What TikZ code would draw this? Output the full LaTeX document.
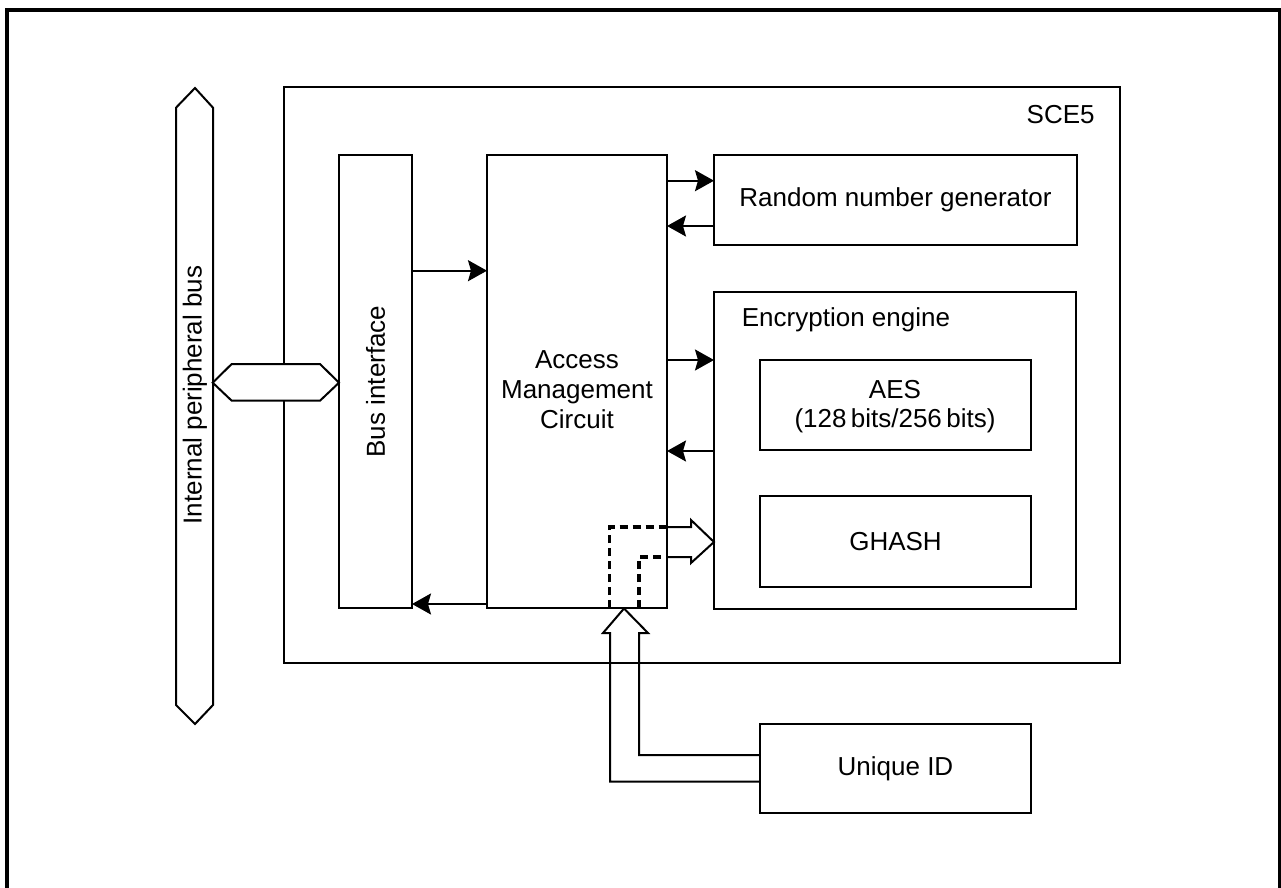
\documentclass[tikz,border=0pt]{standalone}
\usepackage{fontspec}
\setmainfont{Liberation Sans}
\usetikzlibrary{arrows.meta,fit}
\begin{document}
\begin{tikzpicture}[x=0.5pt,y=-0.5pt,
  box/.style={draw, line width=1pt, inner sep=0pt, outer sep=0pt},
  lbl/.style={font=\fontsize{13pt}{15pt}\selectfont, inner sep=0pt, align=center},
  arr/.style={line width=1pt, -{Stealth[length=9.5pt, width=10.5pt, inset=1.5pt]}},
  hollow/.style={draw, line width=1pt, line join=miter, fill=white},
  dashline/.style={line width=1.6pt, dash pattern=on 4pt off 2.5pt}]
\useasboundingbox (0,0) rectangle (1281,888);
% outer frame
\draw[line width=1.6pt] (7,888) -- (7,10) -- (1280,10) -- (1280,888);
% SCE5 block
\node[box, fit={(284,87) (1120,663)}] (sce) {};
\node[lbl, anchor=east] (scelbl) at (1095,115) {SCE5};
% blocks
\node[box, fit={(339,155) (412,608)}] (bif) {};
\node[box, fit={(487,155) (667,608)}] (amc) {};
\node[box, fit={(714,155) (1077,245)}] (rng) {};
\node[box, fit={(714,292) (1076,609)}] (enc) {};
\node[box, fit={(760,360) (1031,450)}] (aes) {};
\node[box, fit={(760,496) (1031,587)}] (ghash) {};
\node[box, fit={(760,724) (1031,813)}] (uid) {};
% labels
\node[lbl, rotate=90] (biflbl) at (bif.center) {Bus interface};
\node[lbl] (amclbl) at (577,390) {Access\\Management\\Circuit};
\node[lbl] (rnglbl) at (rng.center) {Random number generator};
\node[lbl, anchor=west] (enclbl) at (741.5,320) {Encryption engine};
\node[lbl] (aeslbl1) at (895,389.5) {AES};
\node[lbl] (aeslbl2) at (895,421) {(128\,bits/256\,bits)};
\node[lbl] (ghashlbl) at (ghash.center) {GHASH};
\node[lbl] (uidlbl) at (uid.center) {Unique ID};
% internal peripheral bus
\draw[line width=1pt, line join=miter] (176,107.7) -- (195,88) -- (213,107.7) -- (213,705) -- (195,724) -- (176,705) -- cycle;
\node[lbl, rotate=90] (buslbl) at (195,395) {Internal peripheral bus};
% bus connector
\draw[hollow] (212.7,382.7) -- (231.7,364) -- (320,364) -- (339,382.7) -- (320,400.7) -- (231.7,400.7) -- cycle;
% arrows
\draw[arr] (bif.east |- 0,270.7) -- (amc.west |- 0,270.7);
\draw[arr] (amc.west |- 0,604) -- (bif.east |- 0,604);
\draw[arr] (amc.east |- 0,180.7) -- (rng.west |- 0,180.7);
\draw[arr] (rng.west |- 0,226) -- (amc.east |- 0,226);
\draw[arr] (amc.east |- 0,360) -- (enc.west |- 0,360);
\draw[arr] (enc.west |- 0,451) -- (amc.east |- 0,451);
% unique id hollow arrow
\coordinate (uidA) at (uid.west |- 0,781.5);
\coordinate (uidB) at (uid.west |- 0,755);
\draw[line width=1pt, line join=miter] (uidA) -- (610,781.5) -- (610,633) -- (603,633) -- (624,608.5) -- (648,633) -- (639,633) -- (639,755) -- (uidB);
% dashed paths inside AMC
\draw[dashline] (609.5,608) -- (609.5,527) -- (amc.east |- 0,527);
\draw[dashline] (639,608) -- (639,557) -- (amc.east |- 0,557);
% hollow arrow to encryption engine
\draw[line width=1pt, line join=miter] (amc.east |- 0,527) -- (691,527) -- (691,520) -- (enc.west |- 0,542) -- (691,563) -- (691,557) -- (amc.east |- 0,557);
\end{tikzpicture}
\end{document}
